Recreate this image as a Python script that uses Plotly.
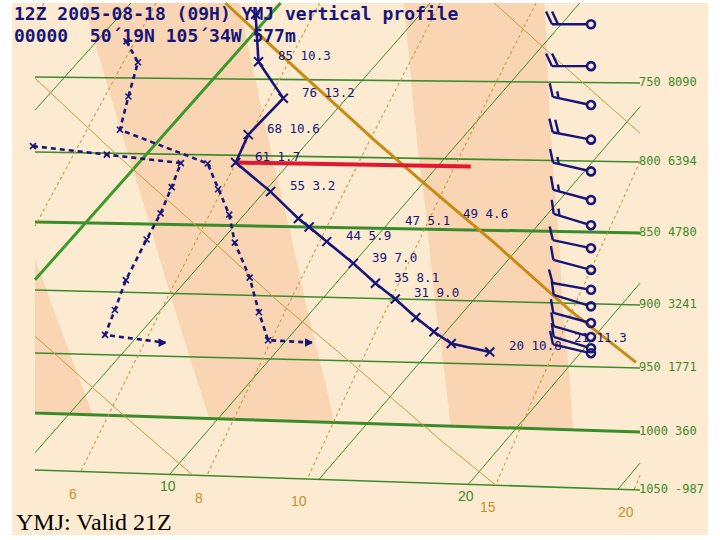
import numpy as np
import plotly.graph_objects as go

# ---------------- data ----------------
levels_hpa = [750, 800, 850, 900, 950, 1000, 1050]
level_heights = [8090, 6394, 4780, 3241, 1771, 360, -987]

# solid profile (hPa, degC)
prof_p = [710, 739, 762, 786, 805, 825, 844, 850, 860, 875, 889, 900, 914, 925, 934, 940]
prof_t = [-0.5, 1.0, 2.9, 2.8, 3.2, 5.2, 6.9, 7.5, 8.5, 10.0, 11.3, 12.4, 13.6, 14.6, 15.5, 17.0]
prof_lbl = ["", "85 10.3", "76 13.2", "68 10.6", "61 1.7", "55 3.2", "", "",
            "44 5.9", "39 7.0", "35 8.1", "31 9.0", "", "", "", "20 10.8"]

extra_lbl = ["47 5.1", "49 4.6", "21 11.3"]
extra_p = [844, 838, 927]
extra_t = [10.4, 12.1, 19.3]

# dashed profiles
dash1_p = [727, 740, 762, 784, 806, 824, 842, 862, 887, 913, 935, 936]
dash1_t = [-4.0, -3.0, -2.3, -1.6, 2.3, 3.4, 4.5, 5.5, 7.0, 8.3, 9.4, 10.9]
dash2_p = [796, 801, 806, 823, 842, 861, 891, 914, 934, 939]
dash2_t = [-4.0, -1.3, 1.4, 1.8, 2.2, 2.5, 3.0, 3.5, 3.9, 6.1]

red_p = 805
red_t = [3.2, 11.1]

# wind barbs
barb_p = [715, 740, 764, 786, 807, 827, 845, 861, 876, 890, 902, 915, 926, 935, 939]
barb_dir = [270, 270, 282, 281, 283, 285, 287, 282, 285, 280, 287, 285, 286, 287, 283]
barb_kt = [20, 20, 15, 20, 15, 15, 15, 10, 10, 10, 10, 10, 10, 10, 10]

# reference lines
isotherms = [-10, -5, 0, 5, 10, 15, 20, 25]
dry_adiabats = [270, 280, 290, 310]
highlight_theta = 300
mixing_ratios = [3, 4, 6, 8, 10, 15, 20]
band_t1000 = [[1.8, 5.8], [9.7, 13.9], [17.8, 21.9]]
band_ttop = [[-14.5, -11.0], [-6.3, -1.1], [4.4, 9.1]]
BAND_PTOP = 708

title1 = "12Z 2005-08-18 (09H) YMJ vertical profile"
title2 = "00000  50´19N 105´34W 577m"
footer = "YMJ: Valid 21Z"

# ---------------- geometry / style ----------------
NAVY = '#16167a'
GREEN = '#3a8c2a'
GREEN_TXT = '#3f8a2c'
ORANGE = '#cc9a3c'
ORANGE_THICK = '#c98a14'
RED = '#e0182e'
CREAM = '#fdebd1'
PEACH = '#f9d5b3'

XL, XR = 35.0, 640.0
YTOP = 3.0
YL = [77, 152, 222, 290, 353, 413, 470]
YR = [83, 162, 233, 305, 368, 432, 490]
X10, SKEW, YREF = 170.0, 0.87, 474.0
LNP = np.log(np.array(levels_hpa, float))


def dxc(y):
    return 30.0 + 0.0017 * (y - 50.0)


def extrap(v, xs, ys):
    v = np.atleast_1d(np.asarray(v, float))
    xs = np.asarray(xs, float)
    ys = np.asarray(ys, float)
    out = np.interp(v, xs, ys)
    lo = v < xs[0]
    hi = v > xs[-1]
    out[lo] = ys[0] + (v[lo] - xs[0]) * (ys[1] - ys[0]) / (xs[1] - xs[0])
    out[hi] = ys[-1] + (v[hi] - xs[-1]) * (ys[-1] - ys[-2]) / (xs[-1] - xs[-2])
    return out


def isobar_y(p, x):
    lp = np.log(np.atleast_1d(np.asarray(p, float)))
    yl = extrap(lp, LNP, YL)
    yr = extrap(lp, LNP, YR)
    return yl + (yr - yl) * (np.asarray(x, float) - XL) / (XR - XL)


def to_px(T, p):
    T = np.atleast_1d(np.asarray(T, float))
    p = np.atleast_1d(np.asarray(p, float))
    T, p = np.broadcast_arrays(T, p)
    y = isobar_y(p, XL)
    for _ in range(6):
        x = X10 + dxc(y) * (T - 10) + SKEW * (YREF - y)
        y = isobar_y(p, x)
    x = X10 + dxc(y) * (T - 10) + SKEW * (YREF - y)
    return x, y


def clip_poly(xs, ys, xmin=XL, xmax=XR, ymin=YTOP, ymax=1e6):
    outx, outy = [], []
    open_ = False
    for i in range(len(xs) - 1):
        x0, y0, x1, y1 = xs[i], ys[i], xs[i + 1], ys[i + 1]
        dx, dy = x1 - x0, y1 - y0
        t0, t1 = 0.0, 1.0
        ok = True
        for pp, qq in ((-dx, x0 - xmin), (dx, xmax - x0), (-dy, y0 - ymin), (dy, ymax - y0)):
            if pp == 0:
                if qq < 0:
                    ok = False
                    break
            else:
                r = qq / pp
                if pp < 0:
                    if r > t1:
                        ok = False
                        break
                    t0 = max(t0, r)
                else:
                    if r < t0:
                        ok = False
                        break
                    t1 = min(t1, r)
        if not ok:
            if open_:
                outx.append(None); outy.append(None); open_ = False
            continue
        ax, ay = x0 + t0 * dx, y0 + t0 * dy
        bx, by = x0 + t1 * dx, y0 + t1 * dy
        if (not open_) or t0 > 0:
            if open_:
                outx.append(None); outy.append(None)
            outx.append(float(ax)); outy.append(float(ay)); open_ = True
        outx.append(float(bx)); outy.append(float(by))
        if t1 < 1:
            outx.append(None); outy.append(None); open_ = False
    return outx, outy


P_SAMPLES = np.geomspace(640, 1050, 500)

fig = go.Figure()


def add_line(x, y, color, width, dash=None):
    fig.add_trace(go.Scatter(x=x, y=y, mode='lines', hoverinfo='skip',
                             line=dict(color=color, width=width, dash=dash)))


# ---------- moist-adiabat shaded bands ----------
for (ta0, tb0), (ta1, tb1) in zip(band_t1000, band_ttop):
    pe = np.geomspace(1000, 660, 120)
    frac = np.log(1000 / pe) / np.log(1000 / BAND_PTOP)
    xa, ya = to_px(ta0 + (ta1 - ta0) * frac, pe)
    xb, yb = to_px(tb0 + (tb1 - tb0) * frac, pe)
    px = np.concatenate([xa, xb[::-1]])
    py = np.concatenate([ya, yb[::-1]])
    px = np.clip(px, XL, XR)
    py = np.maximum(py, YTOP)
    fig.add_trace(go.Scatter(x=list(px), y=list(py), mode='lines', fill='toself',
                             fillcolor=PEACH, line=dict(width=0, color=PEACH),
                             hoverinfo='skip'))

# ---------- isobars ----------
for p, h in zip(levels_hpa, level_heights):
    yl = float(isobar_y(p, XL)[0])
    yr = float(isobar_y(p, XR)[0])
    w = 3.0 if p in (850, 1000) else 1.6
    add_line([XL, XR], [yl, yr], GREEN, w)
    fig.add_annotation(x=XR - 3, y=yr - 1, text=f"{p} {h}", showarrow=False,
                       xanchor='left', yanchor='middle',
                       font=dict(family='DejaVu Sans Mono', size=12, color=GREEN_TXT))

# ---------- isotherms ----------
for t in isotherms:
    x, y = to_px(np.full_like(P_SAMPLES, t), P_SAMPLES)
    cx, cy = clip_poly(x, y)
    add_line(cx, cy, '#3c9a2a' if t == 0 else GREEN, 3.0 if t == 0 else 1.0)
    ex, ey = to_px(t, 1050)
    if t % 10 == 0 and XL <= ex[0] <= XR:
        fig.add_annotation(x=float(ex[0]) - 2, y=float(ey[0]) + 12, text=str(t),
                           showarrow=False, xanchor='center', yanchor='middle',
                           font=dict(family='Liberation Sans Narrow, Liberation Sans', size=14,
                                     color=GREEN_TXT))

# ---------- mixing ratio lines ----------
for w in mixing_ratios:
    e = w * P_SAMPLES / (622.0 + w)
    le = np.log(e / 6.112)
    td = 243.5 * le / (17.67 - le)
    x, y = to_px(td, P_SAMPLES)
    cx, cy = clip_poly(x, y)
    add_line(cx, cy, ORANGE, 1.1, dash='3px,3px')
    ex, ey = float(x[-1]), float(y[-1])
    if XL <= ex <= XR:
        fig.add_annotation(x=ex - 8, y=ey + 22, text=str(w), showarrow=False,
                           xanchor='center', yanchor='middle',
                           font=dict(family='Liberation Sans Narrow, Liberation Sans', size=14,
                                     color='#c8902c'))

# ---------- dry adiabats ----------
for th in dry_adiabats:
    t = th * (P_SAMPLES / 1000.0) ** 0.2857 - 273.15
    x, y = to_px(t, P_SAMPLES)
    cx, cy = clip_poly(x, y)
    add_line(cx, cy, ORANGE, 1.0)

t = highlight_theta * (P_SAMPLES / 1000.0) ** 0.2857 - 273.15
x, y = to_px(t, P_SAMPLES)
cx, cy = clip_poly(x, y, xmax=636)
add_line(cx, cy, ORANGE_THICK, 3.0)

# ---------- red level line ----------
rx, ry = to_px(red_t, [red_p, red_p])
add_line(list(rx), list(ry), RED, 4.0)

# ---------- dashed profiles ----------
for pp, tt in ((dash1_p, dash1_t), (dash2_p, dash2_t)):
    x, y = to_px(tt, pp)
    sym = ['x-thin'] * (len(pp) - 1) + ['arrow-right']
    fig.add_trace(go.Scatter(x=list(x), y=list(y), mode='lines+markers', hoverinfo='skip',
                             line=dict(color=NAVY, width=2.6, dash='5px,4px'),
                             marker=dict(symbol=sym, size=6, color=NAVY,
                                         line=dict(color=NAVY, width=1.6))))

# ---------- solid profile ----------
x, y = to_px(prof_t, prof_p)
fig.add_trace(go.Scatter(x=list(x), y=list(y), mode='lines+markers', hoverinfo='skip',
                         line=dict(color=NAVY, width=2.6),
                         marker=dict(symbol='x-thin', size=9, color=NAVY,
                                     line=dict(color=NAVY, width=2))))
for xi, yi, lb in zip(x, y, prof_lbl):
    if lb:
        fig.add_annotation(x=float(xi) + 17, y=float(yi) - 6, text=lb, showarrow=False,
                           xanchor='left', yanchor='middle',
                           font=dict(family='DejaVu Sans Mono', size=12.5, color=NAVY))
ex, ey = to_px(extra_t, extra_p)
for xi, yi, lb in zip(ex, ey, extra_lbl):
    fig.add_annotation(x=float(xi), y=float(yi), text=lb, showarrow=False,
                       xanchor='left', yanchor='middle',
                       font=dict(family='DejaVu Sans Mono', size=12.5, color=NAVY))

# ---------- wind barbs ----------
BARB_X, STAFF, FULL, HALF, GAP, FANG = 591.0, 39.0, 14.0, 7.0, 6.0, 65.0
wx, wy, cxs, cys = [], [], [], []
for p, d, kt in zip(barb_p, barb_dir, barb_kt):
    cx0 = BARB_X
    cy0 = float(isobar_y(p, BARB_X)[0])
    cxs.append(cx0); cys.append(cy0)
    th = np.deg2rad(d)
    sx, sy = np.sin(th), -np.cos(th)
    ex_, ey_ = cx0 + STAFF * sx, cy0 + STAFF * sy
    wx += [cx0 + 4 * sx, ex_, None]; wy += [cy0 + 4 * sy, ey_, None]
    a = np.deg2rad(FANG)
    fx = sx * np.cos(a) - sy * np.sin(a)
    fy = sx * np.sin(a) + sy * np.cos(a)
    pos = 0.0
    for _ in range(kt // 10):
        bx0, by0 = ex_ - pos * sx, ey_ - pos * sy
        wx += [bx0, bx0 + FULL * fx, None]; wy += [by0, by0 + FULL * fy, None]
        pos += GAP
    for _ in range((kt % 10) // 5):
        bx0, by0 = ex_ - pos * sx, ey_ - pos * sy
        wx += [bx0, bx0 + HALF * fx, None]; wy += [by0, by0 + HALF * fy, None]
        pos += GAP
fig.add_trace(go.Scatter(x=wx, y=wy, mode='lines', hoverinfo='skip',
                         line=dict(color=NAVY, width=2.4)))
fig.add_trace(go.Scatter(x=cxs, y=cys, mode='markers', hoverinfo='skip',
                         marker=dict(symbol='circle-open', size=8, color=NAVY,
                                     line=dict(color=NAVY, width=2.6))))

# ---------- texts ----------
fig.add_annotation(x=12, y=13.5, text=f"<b>{title1}</b>", showarrow=False, xanchor='left',
                   yanchor='middle', font=dict(family='DejaVu Sans Mono', size=18, color=NAVY))
fig.add_annotation(x=12, y=35.5, text=f"<b>{title2}</b>", showarrow=False, xanchor='left',
                   yanchor='middle', font=dict(family='DejaVu Sans Mono', size=18, color=NAVY))
fig.add_annotation(x=14, y=522, text=footer, showarrow=False, xanchor='left', yanchor='middle',
                   font=dict(family='Liberation Serif', size=24, color='black'))

fig.update_layout(
    width=720, height=540, margin=dict(l=0, r=0, t=0, b=0),
    paper_bgcolor='white', plot_bgcolor='white', showlegend=False,
    xaxis=dict(range=[0, 720], visible=False, fixedrange=True),
    yaxis=dict(range=[540, 0], visible=False, fixedrange=True),
    shapes=[dict(type='rect', xref='x', yref='y', x0=12, y0=3, x1=708, y1=535,
                 fillcolor=CREAM, line=dict(width=0), layer='below')],
)

fig.write_html("out.html", config={'displayModeBar': False},
               post_script="document.body.style.margin='0';document.body.style.overflow='hidden';")
